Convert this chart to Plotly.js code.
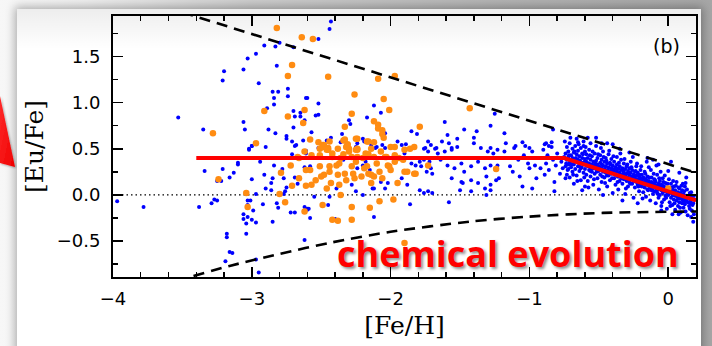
<!DOCTYPE html>
<html>
<head>
<meta charset="utf-8">
<script src="https://cdn.plot.ly/plotly-3.0.1.min.js"></script>
<style>
  html, body { margin:0; padding:0; }
  body { width:712px; height:346px; overflow:hidden; position:relative;
         background: linear-gradient(90deg, #f7f7f7 0%, #eeeeee 12%, #cdcdcd 35%, #b4b4b4 70%, #a6a6a6 100%); }
  #panel { position:absolute; left:17px; top:9px; width:684px; height:345px; background:#fff;
           box-shadow: 0 0 9px 2px rgba(0,0,0,0.30); }
  #shade { position:absolute; left:17px; top:9px; width:684px; height:40px;
           background: linear-gradient(180deg, rgba(0,0,0,0.07), rgba(0,0,0,0)); }
  #arrow { position:absolute; left:0; top:0; }
  #plot { position:absolute; left:0; top:0; width:712px; height:346px; }
</style>
</head>
<body>
<div id="panel"></div>
<div id="shade"></div>
<svg id="arrow" width="40" height="200">
  <defs>
    <linearGradient id="ag" x1="0" y1="0" x2="1" y2="1">
      <stop offset="0" stop-color="#ff2a2a"/>
      <stop offset="1" stop-color="#ee0000"/>
    </linearGradient>
    <filter id="as"><feDropShadow dx="1" dy="1" stdDeviation="1" flood-opacity="0.35"/></filter>
  </defs>
  <polygon points="0,96 15,167 0,163" fill="url(#ag)" filter="url(#as)"/>
</svg>
<div id="plot"></div>
<script>
// ---- data ----
const xTickVals = [-4, -3, -2, -1, 0];
const yTickVals = [-0.5, 0.0, 0.5, 1.0, 1.5];

// blue: metal-poor halo stars
const blueHalo = [
[-2.91,1.62],[-2.83,1.61],[-2.80,1.65],[-2.70,1.60],[-2.97,1.53],[-3.03,1.48],[-2.82,1.40],[-3.20,1.34],[-3.06,1.36],[-3.21,1.24],
[-2.95,1.21],[-2.85,1.12],[-2.81,1.12],[-2.74,1.15],[-2.74,1.07],[-2.84,1.05],[-2.84,0.98],[-2.61,1.05],[-2.89,0.94],[-2.70,0.91],
[-2.69,0.85],[-2.65,0.89],[-2.65,0.85],[-2.62,0.81],[-3.53,0.84],[-3.06,0.79],[-3.05,0.71],[-3.35,0.71],[-2.88,0.71],[-2.83,0.67],
[-2.70,0.73],[-2.75,0.64],[-2.75,0.61],[-2.71,0.58],[-2.68,0.54],[-2.63,0.59],[-3.00,0.53],[-2.90,0.52],[-3.02,0.50],
[-2.43,1.88],[-2.44,1.80],[-2.52,1.69],[-2.60,1.05],[-2.52,0.99],[-2.54,0.86],[-2.52,0.87],[-2.12,0.97],[-2.07,0.89],[-2.17,0.84],
[-2.30,0.81],[-2.29,0.77],[-2.57,0.68],[-2.35,0.66],[-2.04,0.67],[-1.85,0.69],[-1.81,0.66],[-1.61,0.79],[-1.59,0.65],[-1.47,0.71],
[-1.38,0.69],[-1.40,0.62],[-1.28,0.75],[-1.25,0.88],[-1.52,0.61],[-1.73,0.58],[-1.63,0.58],[-1.58,0.56],[-1.40,0.56],[-1.95,0.58],
[-1.92,0.54],[-1.89,0.55],[-2.20,0.61],[-2.19,0.58],[-2.24,0.56],[-2.36,0.57],[-2.43,0.62],[-2.46,0.59],[-2.52,0.51],[-2.11,0.51],
[-2.04,0.51],[-1.75,0.51],[-1.67,0.51],[-1.56,0.51],[-1.35,0.51],[-1.28,0.51],
[-1.18,0.67],[-0.83,0.71],[-1.17,0.56],[-1.10,0.53],[-1.05,0.57],[-1.03,0.53],[-1.00,0.51],[-0.89,0.55],[-0.88,0.56],[-0.86,0.53],
[-0.84,0.57],[-0.66,0.61],[-0.65,0.57],[-0.61,0.53],[-0.56,0.56],[-0.52,0.62],[-0.48,0.56],[-0.40,0.55],[-0.44,0.56],[-0.11,0.38],[0.02,0.36],
[-3.97,-0.07],[-3.78,-0.13],[-3.38,-0.13],[-3.34,0.26],[-3.29,-0.09],[-3.27,-0.05],[-3.25,-0.06],[-3.25,0.15],[-3.22,0.15],[-3.21,0.28],
[-3.16,0.19],[-3.13,0.24],[-3.10,0.35],[-3.10,0.33],[-3.02,0.49],[-3.00,0.53],[-2.94,0.36],[-3.00,0.17],[-2.97,0.01],[-3.03,-0.06],
[-3.01,-0.06],[-3.03,-0.11],[-2.99,-0.17],[-3.06,-0.21],[-3.06,-0.26],[-3.03,-0.24],[-3.04,-0.31],[-3.00,-0.27],[-2.97,-0.30],[-3.04,-0.42],
[-3.18,-0.42],[-3.18,-0.46],[-3.16,-0.62],[-3.19,-0.72],[-2.97,-0.70],[-2.95,-0.84],[-2.91,0.22],[-2.90,0.07],[-2.86,0.05],[-2.85,0.18],
[-2.86,0.13],[-2.84,0.32],[-2.92,-0.10],[-2.85,-0.29],[-2.82,-0.09],[-2.81,-0.14],[-2.78,0.28],[-2.77,0.18],[-2.77,0.01],[-2.76,0.04],
[-2.75,0.08],[-2.72,-0.19],[-2.69,-0.19],[-2.69,0.19],[-2.67,0.12],[-2.71,0.44],[-2.69,0.53],[-2.62,0.30],[-2.61,0.45],[-2.61,0.48],
[-2.60,-0.15],[-2.62,-0.49],
[-2.58,-0.25],[-2.59,-0.15],[-2.40,-0.26],[-2.12,-0.24],[-1.86,-0.10],[-1.58,-0.08],[-3.14,-0.63],[-1.48,0.13]
];

// blue: intermediate metallicity stars
const blueMid = [
[-2.58,0.31],[-2.55,-0.02],[-2.34,0.38],[-2.24,0.29],[-2.20,0.32],[-2.18,0.36],[-2.15,0.27],[-2.13,0.22],[-2.12,0.07],[-2.04,0.07],
[-2.02,0.13],[-1.90,0.45],[-1.88,0.40],[-1.85,0.34],[-1.82,0.32],[-1.79,0.36],[-1.78,0.31],[-1.76,0.38],[-1.74,0.25],[-1.72,0.36],
[-1.71,0.29],[-1.70,0.23],[-1.92,0.18],[-1.88,0.11],[-1.79,0.05],[-1.76,0.02],[-1.73,0.04],[-1.70,0.02],[-1.68,0.50],[-1.61,0.47],
[-1.56,0.49],[-1.52,0.52],[-1.59,0.32],[-1.54,0.29],[-1.49,0.34],[-1.47,0.25],[-1.42,0.31],[-1.37,0.36],[-1.32,0.29],[-1.28,0.32],
[-1.24,0.27],[-1.56,0.18],[-1.49,0.14],[-1.42,0.16],[-1.37,0.13],[-1.31,0.20],[-1.28,0.11],[-1.24,0.16],[-1.50,0.05],[-1.42,0.04],
[-1.32,0.07],[-1.31,0.00],[-1.28,0.05],[-2.62,-0.13],[-2.60,-0.16],[-2.44,-0.02],[-2.39,0.07],[-2.45,-0.11],[-2.28,0.11],[-2.25,0.04],
[-2.20,0.00],[-2.13,0.07],[-2.07,0.14],[-2.14,0.54],[-2.10,0.52],[-2.06,0.54],[-2.25,0.52],[-2.32,0.54],[-2.45,0.52],[-1.76,0.50],
[-1.73,0.47],[-1.71,0.54],[-1.66,0.45],[-1.64,0.38],[-1.30,0.47],[-1.26,0.45],[-1.23,0.49],
[-1.23,0.32],[-1.22,0.18],[-1.18,0.47],[-1.14,0.31],[-1.12,0.25],[-1.11,0.51],[-1.08,0.38],[-1.07,0.20],[-1.05,0.09],[-1.04,0.43],
[-1.01,0.34],[-1.00,0.29],[-0.98,0.47],[-0.96,0.32],[-0.95,0.18],[-0.93,0.40],[-0.92,0.29],[-0.90,0.49],[-0.89,0.22],[-0.88,0.34],
[-0.87,0.43],[-0.86,0.27],[-0.84,0.52],[-0.83,0.38],[-0.82,0.14],[-0.81,0.32],[-0.80,0.45],[-0.78,0.23],[-0.77,0.36],[-0.76,0.29],
[-0.75,0.41],[-0.74,0.18],[-0.98,0.07],[-0.82,0.04]
];

// blue: disk stars (dense band)
const blueDisk = [
[-0.74,0.45],[-0.74,0.31],[-0.73,0.52],[-0.73,0.38],[-0.73,0.22],[-0.72,0.41],[-0.72,0.28],[-0.72,0.47],[-0.71,0.35],[-0.71,0.19],
[-0.71,0.56],[-0.70,0.43],[-0.70,0.30],[-0.70,0.37],[-0.69,0.50],[-0.69,0.25],[-0.69,0.40],[-0.68,0.33],[-0.68,0.46],[-0.68,0.12],
[-0.67,0.39],[-0.67,0.28],[-0.67,0.53],[-0.66,0.36],[-0.66,0.44],[-0.66,0.21],[-0.65,0.31],[-0.65,0.48],[-0.65,0.38],[-0.64,0.26],
[-0.64,0.42],[-0.64,0.34],[-0.63,0.51],[-0.63,0.29],[-0.63,0.16],[-0.62,0.40],[-0.62,0.35],[-0.62,0.45],[-0.61,0.24],[-0.61,0.33],
[-0.61,0.58],[-0.60,0.39],[-0.60,0.28],[-0.60,0.09],[-0.60,0.47],
[-0.59,0.36],[-0.59,0.22],[-0.59,0.44],[-0.58,0.31],[-0.58,0.40],[-0.58,0.15],[-0.57,0.34],[-0.57,0.27],[-0.57,0.49],[-0.56,0.38],
[-0.56,0.30],[-0.56,0.20],[-0.55,0.42],[-0.55,0.33],[-0.55,0.25],[-0.54,0.36],[-0.54,0.11],[-0.54,0.29],[-0.53,0.45],[-0.53,0.32],
[-0.53,0.23],[-0.52,0.37],[-0.52,0.28],[-0.52,0.53],[-0.51,0.33],[-0.51,0.18],[-0.51,0.40],[-0.50,0.26],[-0.50,0.31],[-0.50,0.06],
[-0.49,0.35],[-0.49,0.22],[-0.49,0.43],[-0.48,0.29],[-0.48,0.38],[-0.48,0.14],[-0.47,0.32],[-0.47,0.25],[-0.47,0.47],[-0.46,0.28],
[-0.46,0.36],[-0.46,0.19],[-0.45,0.31],[-0.45,0.40],[-0.45,0.24],[-0.44,0.27],[-0.44,0.34],[-0.44,0.09],[-0.43,0.30],[-0.43,0.21],
[-0.43,0.44],[-0.42,0.26],[-0.42,0.35],[-0.42,0.16],[-0.41,0.29],[-0.41,0.23],[-0.41,0.39],[-0.40,0.25],[-0.40,0.32],[-0.40,0.02],
[-0.39,0.27],[-0.39,0.18],[-0.39,0.36],[-0.38,0.22],[-0.38,0.30],[-0.38,0.11],[-0.37,0.25],[-0.37,0.33],[-0.37,0.41],[-0.36,0.20],
[-0.36,0.28],[-0.36,0.06],[-0.35,0.24],[-0.35,0.31],[-0.35,0.15],[-0.34,0.27],[-0.34,0.19],[-0.34,0.38],[-0.33,0.22],[-0.33,0.29],
[-0.33,0.12],[-0.32,0.25],[-0.32,0.17],[-0.32,0.34],[-0.31,0.21],[-0.31,0.28],[-0.31,0.01],[-0.30,0.23],[-0.30,0.15],[-0.30,0.31],
[-0.29,0.19],[-0.29,0.26],[-0.29,0.09],[-0.28,0.22],[-0.28,0.29],[-0.28,0.14],[-0.27,0.18],[-0.27,0.24],[-0.27,0.36],[-0.26,0.20],
[-0.26,0.12],[-0.26,0.27],[-0.25,0.16],[-0.25,0.22],[-0.25,-0.03],[-0.24,0.19],[-0.24,0.25],[-0.24,0.08],[-0.23,0.14],[-0.23,0.21],
[-0.23,0.31],[-0.22,0.17],[-0.22,0.11],[-0.22,0.24],[-0.21,0.15],[-0.21,0.20],[-0.21,0.04],[-0.20,0.13],[-0.20,0.18],[-0.20,0.27],
[-0.19,0.16],[-0.19,0.09],[-0.19,0.22],[-0.18,0.12],[-0.18,0.19],[-0.18,0.03],[-0.17,0.14],[-0.17,0.08],[-0.17,0.25],[-0.16,0.11],
[-0.16,0.17],[-0.16,-0.02],[-0.15,0.13],[-0.15,0.06],[-0.15,0.20],[-0.14,0.10],[-0.14,0.15],[-0.14,0.30],[-0.13,0.08],[-0.13,0.12],
[-0.13,-0.06],[-0.12,0.14],[-0.12,0.05],[-0.12,0.19],[-0.11,0.09],[-0.11,0.13],[-0.11,0.01],[-0.10,0.11],[-0.10,0.17],[-0.10,0.04],
[-0.09,0.08],[-0.09,0.14],[-0.09,-0.09],[-0.08,0.10],[-0.08,0.02],[-0.08,0.22],[-0.07,0.06],[-0.07,0.12],[-0.07,-0.03],[-0.06,0.09],
[-0.06,0.15],[-0.06,0.00],[-0.05,0.05],[-0.05,0.11],[-0.05,-0.12],[-0.04,0.07],[-0.04,0.02],[-0.04,0.18],[-0.03,0.04],[-0.03,0.09],
[-0.03,-0.05],[-0.02,0.06],[-0.02,0.13],[-0.02,-0.01],[-0.01,0.03],[-0.01,0.08],[-0.01,-0.15],[0.00,0.05],[0.00,0.00],[0.00,0.26],
[0.01,0.02],[0.01,0.07],[0.01,-0.08],[0.02,0.04],[0.02,-0.03],[0.02,0.12],[0.03,0.00],[0.03,0.06],[0.03,-0.11],[0.04,0.03],
[0.04,-0.05],[0.04,0.09],[0.05,-0.01],[0.05,0.05],[0.05,-0.16],[0.06,0.01],[0.06,-0.06],[0.06,0.14],[0.07,-0.03],[0.07,0.03],
[0.07,-0.12],[0.08,0.00],[0.08,-0.08],[0.08,0.07],[0.09,-0.04],[0.09,0.02],[0.09,-0.19],[0.10,-0.02],[0.10,-0.09],[0.10,0.05],
[0.11,-0.05],[0.11,0.01],[0.11,-0.14],[0.12,-0.03],[0.12,-0.10],[0.12,0.09],[0.13,-0.06],[0.13,-0.01],[0.14,-0.08],[0.14,-0.22],
[0.15,-0.04],[0.15,-0.12],[0.16,-0.07],[0.17,-0.02],[0.17,-0.17],[0.18,-0.09],[0.18,-0.29],[0.19,-0.05]
];

// blue: more disk stars, filling the band between the above
const blueDisk2 = [
[-0.745,0.58],[-0.735,0.34],[-0.725,0.27],[-0.715,0.43],[-0.705,0.62],[-0.695,0.33],[-0.685,0.22],[-0.675,0.47],[-0.665,0.40],[-0.655,0.15],
[-0.645,0.55],[-0.635,0.37],[-0.625,0.30],[-0.615,0.44],[-0.605,0.19],[-0.595,0.52],[-0.585,0.35],[-0.575,0.08],[-0.565,0.43],[-0.555,0.29],
[-0.545,0.47],[-0.535,0.17],[-0.525,0.34],[-0.515,0.25],[-0.505,0.44],[-0.495,0.30],[-0.485,0.51],[-0.475,0.20],[-0.465,0.41],[-0.455,0.13],
[-0.445,0.37],[-0.435,0.26],[-0.425,0.48],[-0.415,0.33],[-0.405,0.18],[-0.395,0.42],[-0.385,0.24],[-0.375,0.29],[-0.365,0.14],[-0.355,0.35],
[-0.345,0.45],[-0.335,0.18],[-0.325,0.27],[-0.315,0.39],[-0.305,0.07],[-0.295,0.33],[-0.285,0.24],[-0.275,0.12],[-0.265,0.30],[-0.255,0.41],
[-0.245,0.15],[-0.235,0.26],[-0.225,0.34],[-0.215,0.09],[-0.205,0.22],[-0.195,0.31],[-0.185,-0.04],[-0.175,0.18],[-0.165,0.23],[-0.155,0.36],
[-0.145,0.05],[-0.135,0.19],[-0.125,0.27],[-0.115,0.06],[-0.105,0.23],[-0.095,0.16],[-0.085,0.32],[-0.075,0.01],[-0.065,0.18],[-0.055,0.25],
[-0.045,-0.08],[-0.035,0.14],[-0.025,0.21],[-0.015,-0.03],[-0.005,0.12],[0.005,0.17],[0.015,-0.12],[0.025,0.08],[0.035,0.15],[0.045,-0.09],
[0.055,0.10],[0.065,-0.02],[0.075,0.08],[0.085,-0.14],[0.095,0.10],[0.105,-0.06],[0.115,0.04],[0.125,-0.18],[0.135,0.06],[0.145,-0.03],
[0.155,-0.15],[0.165,0.03],[0.175,-0.11],[0.185,-0.21],[0.155,0.02],[0.125,0.13],[0.185,-0.01],[0.165,-0.24],[0.105,0.12],[0.075,-0.21],
[-0.718,0.33],[-0.682,0.37],[-0.641,0.31],[-0.603,0.36],[-0.562,0.26],[-0.523,0.30],[-0.478,0.33],[-0.442,0.21],[-0.402,0.28],[-0.363,0.20],
[-0.322,0.24],[-0.283,0.17],[-0.243,0.21],[-0.202,0.10],[-0.162,0.14],[-0.122,0.10],[-0.082,0.05],[-0.042,0.10],[-0.002,0.02],[0.038,0.00],
[0.078,-0.04],[0.118,-0.07],[0.158,-0.09],
[-0.62,0.05],[-0.47,0.00],[-0.33,-0.06],[-0.22,-0.09],[-0.05,-0.17],[0.03,-0.21],[-0.58,0.62],[-0.35,0.50],[-0.28,0.46],[-0.15,0.40],
[-0.07,0.33],[0.08,0.24],[0.13,0.19]
];

// orange: second sample
const orangeStars = [
[-2.82,1.81],[-2.64,1.71],[-2.56,1.69],[-2.71,1.41],[-2.74,1.29],[-2.45,1.28],[-2.09,1.26],[-1.97,1.29],[-2.26,1.09],[-2.05,1.04],
[-2.01,0.92],[-2.28,0.88],[-1.43,0.94],[-2.62,0.92],[-2.74,0.85],[-2.63,0.78],[-2.91,0.91],[-3.28,0.67],[-2.97,0.56],[-2.12,0.80],
[-2.09,0.76],[-2.09,0.72],[-2.06,0.70],[-2.06,0.66],[-2.05,0.62],[-2.33,0.74],[-1.79,0.74],[-2.24,0.61],[-2.17,0.58],[-2.12,0.57],
[-2.58,0.60],[-2.52,0.57],[-2.44,0.58],[-2.34,0.59],[-2.31,0.55],[-2.49,0.54],[-2.45,0.51],[-1.97,0.52],[-2.30,0.50],[-2.24,0.50],
[-3.24,0.17],[-3.04,0.02],[-3.03,-0.13],[-2.79,0.24],[-2.80,0.01],[-2.76,-0.08],[-2.72,0.32],[-2.66,0.18],[-2.71,0.10],[-2.61,0.10],
[-2.62,-0.18],[-2.66,0.40],
[-2.62,0.47],[-2.57,0.43],[-2.51,0.50],[-2.48,0.54],[-2.45,0.49],[-2.42,0.45],[-2.38,0.50],[-2.36,0.40],[-2.31,0.54],[-2.30,0.47],
[-2.25,0.49],[-2.24,0.41],[-2.20,0.40],[-2.18,0.45],[-2.14,0.50],[-2.12,0.41],[-2.07,0.47],[-2.03,0.41],[-2.00,0.52],[-1.97,0.43],
[-1.94,0.40],[-1.90,0.49],[-1.86,0.50],[-1.83,0.52],[-2.61,0.27],[-2.57,0.11],[-2.54,0.16],[-2.51,0.31],[-2.48,0.22],[-2.46,0.07],
[-2.44,0.25],[-2.43,0.13],[-2.39,0.32],[-2.38,0.22],[-2.37,0.11],[-2.33,0.23],[-2.32,0.16],[-2.28,0.31],[-2.26,0.18],[-2.21,0.20],
[-2.19,0.29],[-2.16,0.23],[-2.14,0.13],[-2.12,0.20],[-2.08,0.25],[-2.06,0.18],[-2.02,0.32],[-2.00,0.27],[-1.97,0.36],[-1.95,0.13],
[-1.90,0.25],[-1.83,0.23],[-1.73,0.32],[-2.49,-0.11],[-2.36,0.00],[-2.28,-0.13],[-2.15,-0.14],[-2.08,-0.07],[-1.98,-0.05],[-2.42,-0.27],
[-2.38,-0.28],[-2.28,-0.27],[-1.90,-0.52],
[-2.49,0.52],[-2.46,0.49],[-2.33,0.60],[-2.32,0.52],[-2.25,0.61],[-2.24,0.49],[-2.16,0.58],[-2.16,0.44],[-2.51,0.43],[-2.42,0.41],
[-2.34,0.44],[-2.28,0.41],[-2.67,0.41],[-2.58,0.27],[-2.44,0.31],[-2.37,0.34],[-2.25,0.36],[-2.17,0.31],[-2.10,0.34],[-2.04,0.41],
[-2.01,0.31],[-1.91,0.38],[-1.88,0.25],[-1.82,0.23],[-2.14,0.22],[-2.27,0.23],[-2.50,0.20],[-1.24,0.28],[0.00,0.07]
];

// model curves
const upperEnvX = [-3.50, 0.20];
const upperEnvY = [1.98, 0.24];
const lowerEnvX = [-3.42, -3.16, -2.80, -2.44, -2.00, -1.43, -1.00, -0.47, 0.20];
const lowerEnvY = [-0.88, -0.77, -0.64, -0.52, -0.40, -0.29, -0.235, -0.195, -0.18];
const modelX = [-3.40, -0.75, 0.20];
const modelY = [0.40, 0.40, -0.06];
const zeroX = [-4, 0.2];
const zeroY = [0, 0];

const blueAll = blueHalo.concat(blueMid, blueDisk, blueDisk2);

const traces = [
  {x: zeroX, y: zeroY, mode:'lines', line:{color:'#000', width:1.2, dash:'1.5px,3px'}, hoverinfo:'skip'},
  {x: blueAll.map(p=>p[0]), y: blueAll.map(p=>p[1]), mode:'markers', type:'scatter',
   marker:{color:'#0000ff', size:4, line:{width:0}}},
  {x: orangeStars.map(p=>p[0]), y: orangeStars.map(p=>p[1]), mode:'markers', type:'scatter',
   marker:{color:'#ff8c12', size:6.5, line:{width:0}}},
  {x: upperEnvX, y: upperEnvY, mode:'lines', line:{color:'#000', width:2.6, dash:'11px,7px'}},
  {x: lowerEnvX, y: lowerEnvY, mode:'lines', line:{color:'#000', width:2.6, dash:'11px,7px', shape:'spline', smoothing:0.8}},
  {x: modelX, y: modelY, mode:'lines', line:{color:'#ff0000', width:4}}
];

const tickFont = {family:'DejaVu Sans', size:18, color:'#000'};
const layout = {
  width:712, height:346,
  margin:{l:113, r:16, t:16, b:69},
  paper_bgcolor:'rgba(0,0,0,0)', plot_bgcolor:'rgba(0,0,0,0)',
  showlegend:false,
  xaxis:{range:[-4,0.2], tickvals:xTickVals, ticks:'inside', ticklen:10, tickwidth:1.6, tickcolor:'#000',
         minor:{dtick:0.2, tick0:-4, ticks:'inside', ticklen:5, tickwidth:1.4, tickcolor:'#000'},
         showline:true, linewidth:2, linecolor:'#000', mirror:'ticks', showgrid:false, zeroline:false,
         tickfont:tickFont, ticklabelstandoff:4,
         title:{text:'[Fe/H]', font:{family:'DejaVu Serif', size:25, color:'#000'}, standoff:9}},
  yaxis:{range:[-0.89,1.94], tickvals:yTickVals, tickformat:'.1f', ticks:'inside', ticklen:10, tickwidth:1.6, tickcolor:'#000',
         minor:{dtick:0.25, tick0:0, ticks:'inside', ticklen:5, tickwidth:1.4, tickcolor:'#000'},
         showline:true, linewidth:2, linecolor:'#000', mirror:'ticks', showgrid:false, zeroline:false,
         tickfont:tickFont, ticklabelstandoff:7,
         title:{text:'[Eu/Fe]', font:{family:'DejaVu Serif', size:25, color:'#000'}, standoff:6}},
  annotations:[
    {text:'(b)', x:-0.01, y:1.62, xref:'x', yref:'y', showarrow:false, xanchor:'center', yanchor:'middle',
     font:{family:'DejaVu Sans', size:19, color:'#000'}},
    {text:'chemical evolution', x:-1.155, y:-0.64, xref:'x', yref:'y', showarrow:false, xanchor:'center', yanchor:'middle',
     font:{family:'Open Sans', size:36, color:'#ff0000', weight:700, shadow:'2px 2px 3px rgba(0,0,0,0.45)'}}
  ]
};
Plotly.newPlot('plot', traces, layout, {displayModeBar:false, staticPlot:true});
</script>
</body>
</html>
